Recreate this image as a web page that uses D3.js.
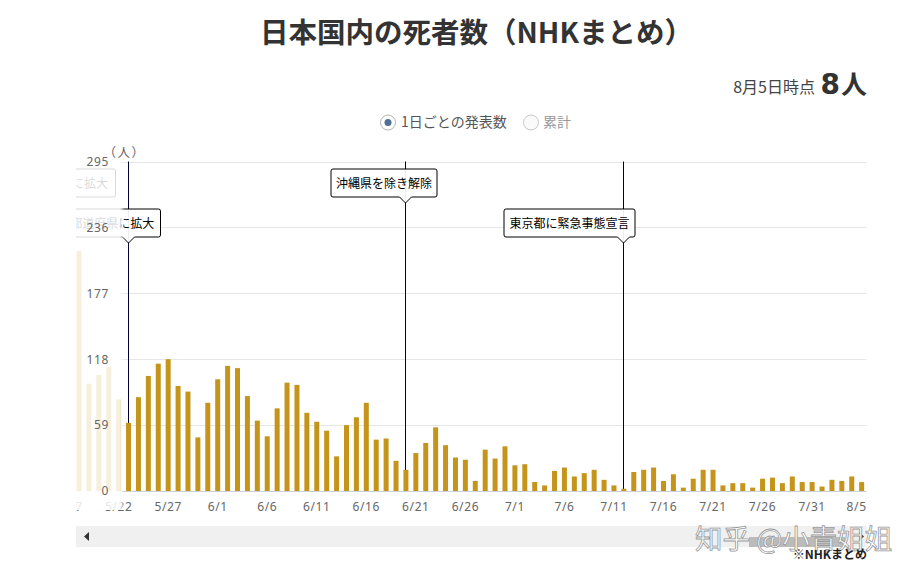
<!DOCTYPE html>
<html lang="ja">
<head>
<meta charset="utf-8">
<script src="https://cdn.jsdelivr.net/npm/d3@7"></script>
<style>
  html, body { margin: 0; padding: 0; background: #fff; }
  svg { display: block; font-family: "Noto Sans CJK JP", "Noto Sans", sans-serif; }
  .axis text { fill: #666; font-size: 12px; letter-spacing: 0.6px; font-family: "Noto Sans", sans-serif; }
  .axis .domain, .axis line { display: none; }
  .grid line { stroke: #e6e6e6; }
  .grid line.zero { stroke: #ccd0d8; }
  .flag path { stroke: #000; fill: #fff; fill-opacity: 0.93; }
  .flag text { fill: #000; font-size: 12px; text-anchor: middle; }
</style>
</head>
<body>
<svg id="chart" width="918" height="576"></svg>
<script>
// x categories, 5/17 only shows as a clipped tick label
const categories = [
  '5/17', '5/18', '5/19', '5/20', '5/21', '5/22', '5/23', '5/24', '5/25', '5/26', '5/27', '5/28', '5/29', '5/30', '5/31',
  '6/1', '6/2', '6/3', '6/4', '6/5', '6/6', '6/7', '6/8', '6/9', '6/10', '6/11', '6/12', '6/13', '6/14', '6/15',
  '6/16', '6/17', '6/18', '6/19', '6/20', '6/21', '6/22', '6/23', '6/24', '6/25', '6/26', '6/27', '6/28', '6/29', '6/30',
  '7/1', '7/2', '7/3', '7/4', '7/5', '7/6', '7/7', '7/8', '7/9', '7/10', '7/11', '7/12', '7/13', '7/14', '7/15',
  '7/16', '7/17', '7/18', '7/19', '7/20', '7/21', '7/22', '7/23', '7/24', '7/25', '7/26', '7/27', '7/28', '7/29', '7/30',
  '7/31', '8/1', '8/2', '8/3', '8/4', '8/5'
]
const fadedDates = ['5/18', '5/19', '5/20', '5/21', '5/22']
const fadedDeaths = [215, 96, 104, 111, 82]
const visibleDates = categories.slice(6)
const deaths = [
  61, 84, 103, 114, 118, 94, 89, 48, 79, 100, 112, 110, 85, 63, 49, 74, 97, 95, 70, 62, 54,
  31, 59, 66, 79, 46, 47, 27, 19, 34, 43, 57, 41, 30, 28, 9, 37, 29, 40, 23, 24, 8, 5, 18, 21, 13, 16, 19,
  10, 5, 2, 17, 19, 21, 9, 15, 3, 11, 19, 19, 5, 7, 7, 3, 11, 12, 7, 13, 8, 8, 4, 10, 9, 13, 8
]
const yTicks = [0, 59, 118, 177, 236, 295]
const xTicks = ['5/17', '5/22', '5/27', '6/1', '6/6', '6/11', '6/16', '6/21', '6/26', '7/1', '7/6', '7/11', '7/16', '7/21', '7/26', '7/31', '8/5']
const flagDates = ['5/23', '6/20', '7/12']
const flagLabels = ['全都道府県に拡大', '沖縄県を除き解除', '東京都に緊急事態宣言']

// flag box placement relative to the flagpole
const flagLayout = [
  { left: -76.5, right: 32, top: 209 },
  { left: -74.5, right: 31.5, top: 169 },
  { left: -119.5, right: 11.5, top: 209 }
]

const margin = { top: 161.5, right: 51.4, bottom: 85, left: 64.14 }
const width = 918
const height = 576
const baseline = height - margin.bottom
const clipLeft = 76

const svg = d3.select('#chart')

const x = d3.scaleBand().domain(categories).range([margin.left, width - margin.right])
const y = d3.scaleLinear().domain([0, 295]).range([baseline, margin.top])
const barWidth = 5
const center = (d) => x(d) + x.bandwidth() / 2
const pole = (d) => Math.floor(center(d)) + 0.5

svg.append('defs').append('clipPath').attr('id', 'plot-clip')
  .append('rect').attr('x', clipLeft).attr('y', 0)
  .attr('width', width - clipLeft).attr('height', height)

const fade = svg.select('defs').append('linearGradient')
  .attr('id', 'left-fade').attr('gradientUnits', 'userSpaceOnUse')
  .attr('x1', clipLeft).attr('x2', 125).attr('y1', 0).attr('y2', 0)
fade.append('stop').attr('offset', 0.9).attr('stop-color', '#fff').attr('stop-opacity', 0.85)
fade.append('stop').attr('offset', 1).attr('stop-color', '#fff').attr('stop-opacity', 0)

// Title and headline number
svg.append('text').attr('x', 476.5).attr('y', 43)
  .attr('text-anchor', 'middle').attr('font-size', 28.5).attr('font-weight', 700).attr('fill', '#333')
  .text('日本国内の死者数（NHKまとめ）')
svg.append('text').attr('x', 815).attr('y', 93)
  .attr('text-anchor', 'end').attr('font-size', 16).attr('fill', '#444')
  .text('8月5日時点')
const total = svg.append('text').attr('x', 867).attr('y', 94)
  .attr('text-anchor', 'end').attr('font-size', 26).attr('font-weight', 700).attr('fill', '#333')
total.append('tspan').attr('font-family', '"DejaVu Sans", sans-serif').attr('font-size', 28).text('8')
total.append('tspan').attr('dx', 1).text('人')

// Radio buttons
const radios = svg.append('g')
radios.append('circle').attr('cx', 388).attr('cy', 122.5).attr('r', 7.5)
  .attr('fill', '#fff').attr('stroke', '#b5b5b5')
radios.append('circle').attr('cx', 388).attr('cy', 122.5).attr('r', 3.5).attr('fill', '#4f6f96')
radios.append('text').attr('x', 401).attr('y', 127).attr('font-size', 14).attr('fill', '#555')
  .text('1日ごとの発表数')
radios.append('circle').attr('cx', 531).attr('cy', 122.5).attr('r', 7.5)
  .attr('fill', '#fafafa').attr('stroke', '#c8c8c8')
radios.append('text').attr('x', 543).attr('y', 127).attr('font-size', 14).attr('fill', '#999')
  .text('累計')

const plot = svg.append('g').attr('clip-path', 'url(#plot-clip)')

// Grid lines
plot.append('g').attr('class', 'grid')
  .selectAll('line')
  .data(yTicks)
  .join('line')
  .attr('class', (d) => (d === 0 ? 'zero' : null))
  .attr('x1', 118)
  .attr('x2', width - margin.right)
  .attr('y1', (d) => Math.round(y(d)) + 0.5)
  .attr('y2', (d) => Math.round(y(d)) + 0.5)

// Flag poles stop at the top of their bar
plot.append('g').selectAll('line')
  .data(flagDates)
  .join('line')
  .attr('x1', pole)
  .attr('x2', pole)
  .attr('y1', margin.top)
  .attr('y2', baseline)
  .attr('stroke', '#000033')

// Bars, the left ones get washed out by the overlay below
plot.append('g')
  .selectAll('rect')
  .data(d3.zip(fadedDates, fadedDeaths).concat(d3.zip(visibleDates, deaths)))
  .join('rect')
  .attr('x', (d) => center(d[0]) - barWidth / 2)
  .attr('y', (d) => y(d[1]))
  .attr('width', barWidth)
  .attr('height', (d) => baseline - y(d[1]))
  .attr('fill', '#c4951a')

// X axis
const xAxis = plot.append('g')
  .attr('class', 'axis')
  .attr('transform', `translate(0,${baseline})`)
  .call(d3.axisBottom(x).tickValues(xTicks).tickSize(0).tickPadding(11))
// last label is pushed inside the plot edge
xAxis.selectAll('.tick text')
  .filter((d) => d === '8/5')
  .attr('text-anchor', 'end')
  .attr('dx', width - margin.right - center('8/5'))

// Flag boxes
function flagPath(p, layout) {
  const l = p + layout.left
  const r = p + layout.right
  const t = layout.top
  const b = t + 28
  return `M${l + 2},${t}H${r - 2}Q${r},${t} ${r},${t + 2}V${b - 2}Q${r},${b} ${r - 2},${b}` +
    `H${p + 6}L${p},${b + 6}L${p - 6},${b}H${l + 2}Q${l},${b} ${l},${b - 2}V${t + 2}Q${l},${t} ${l + 2},${t}Z`
}

const flags = plot.append('g')
  .selectAll('g')
  .data(flagDates)
  .join('g')
  .attr('class', 'flag')
flags.append('path').attr('d', (d, i) => flagPath(pole(d), flagLayout[i]))
flags.append('text')
  .attr('x', (d, i) => pole(d) + (flagLayout[i].left + flagLayout[i].right) / 2)
  .attr('y', (d, i) => flagLayout[i].top + 18.5)
  .text((d, i) => flagLabels[i])

// Older flag, scrolled out to the left
const oldFlag = plot.append('g').attr('class', 'flag')
oldFlag.append('rect').attr('x', 40).attr('y', 169).attr('width', 75.5).attr('height', 28)
  .attr('rx', 2).attr('fill', '#fff').attr('stroke', '#000')
oldFlag.append('text').attr('x', 78).attr('y', 187.5).text('全国に拡大')

// Wash over everything scrolled out of the active range
svg.append('rect').attr('x', clipLeft).attr('y', 160).attr('width', 49).attr('height', 350)
  .attr('fill', 'url(#left-fade)')

// Y axis
svg.append('g')
  .attr('class', 'axis')
  .attr('transform', 'translate(109,0)')
  .call(d3.axisLeft(y).tickValues(yTicks).tickSize(0).tickPadding(0))
svg.append('text').attr('x', 124.5).attr('y', 157)
  .attr('text-anchor', 'middle').attr('font-size', 12.5).attr('letter-spacing', 1.5).attr('fill', '#666')
  .text('（人）')

// Scrollbar
svg.append('rect').attr('x', clipLeft).attr('y', 526).attr('width', width - margin.right - clipLeft).attr('height', 21)
  .attr('fill', '#f0f0f0')
svg.append('rect').attr('x', 749).attr('y', 537).attr('width', 96).attr('height', 10)
  .attr('fill', '#bbb')
svg.append('path').attr('d', 'M84,536.5L89,532V541Z').attr('fill', '#333')
svg.append('path').attr('d', 'M864,536.5L859,532V541Z').attr('fill', '#333')

// Watermark
svg.append('text').attr('x', 695).attr('y', 549)
  .attr('font-size', 27.5).attr('fill', '#fff').attr('stroke', '#999').attr('stroke-width', 0.8)
  .text('知乎 @小青姐姐')

svg.append('text').attr('x', 867).attr('y', 559)
  .attr('text-anchor', 'end').attr('font-size', 12).attr('font-weight', 700).attr('fill', '#222')
  .text('※NHKまとめ')
</script>
</body>
</html>
